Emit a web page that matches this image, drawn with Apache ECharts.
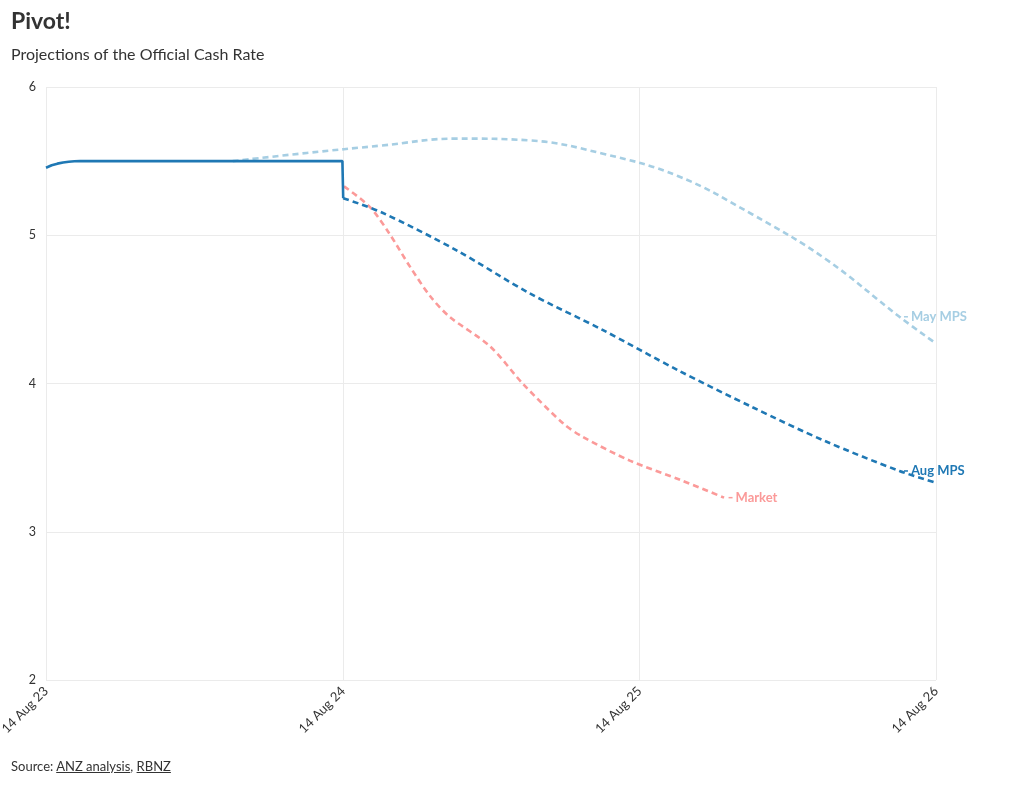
<!DOCTYPE html>
<html><head><meta charset="utf-8">
<script src="https://cdn.jsdelivr.net/npm/echarts@6/dist/echarts.min.js"></script>
<style>
html,body{margin:0;padding:0;background:#fff;}
#chart{width:1020px;height:785px;}
#source{position:absolute;left:11px;top:758px;font-family:Lato,sans-serif;font-size:13px;color:#333;}
#source span{text-decoration:underline;}
</style></head><body>
<div id="chart"></div>
<div id="source">Source: <span>ANZ analysis</span>, <span>RBNZ</span></div>
<script>
// ---- data ----
const tickDates = ['2023-08-14', '2024-08-14', '2025-08-14', '2026-08-14'];
const yTicks = [2, 3, 4, 5, 6];

const ocrDates = ['2023-08-14','2023-08-21','2023-08-28','2023-09-04','2023-09-11','2023-09-18','2023-09-25','2023-10-15','2024-01-15','2024-04-15','2024-07-15','2024-08-13','2024-08-14'];
const ocrValues = [5.455, 5.472, 5.483, 5.491, 5.496, 5.499, 5.5, 5.5, 5.5, 5.5, 5.5, 5.5, 5.25];

const mayDates = ['2024-03-31','2024-06-30','2024-09-30','2024-12-31','2025-03-31','2025-06-30','2025-09-30','2025-12-31','2026-03-31','2026-06-30','2026-08-14'];
const mayValues = [5.50, 5.555, 5.605, 5.652, 5.64, 5.55, 5.40, 5.14, 4.84, 4.45, 4.27];

const augDates = ['2024-08-14','2024-09-30','2024-12-31','2025-03-31','2025-06-30','2025-09-30','2025-12-31','2026-03-31','2026-06-30','2026-08-14'];
const augValues = [5.25, 5.155, 4.90, 4.61, 4.36, 4.09, 3.84, 3.61, 3.41, 3.33];

const mktDates = ['2024-08-15','2024-09-16','2024-10-10','2024-11-04','2024-11-29','2024-12-23','2025-02-11','2025-03-23','2025-05-12','2025-06-05','2025-08-02','2025-10-03','2025-11-26'];
const mktValues = [5.33, 5.19, 5.01, 4.79, 4.59, 4.45, 4.25, 4.00, 3.73, 3.64, 3.48, 3.35, 3.23];

const labelDates = {'May MPS': '2026-06-30', 'Aug MPS': '2026-06-30', 'Market': '2025-11-26'};

// ---- build ----
const FONT = 'Lato, sans-serif';
const colors = {'OCR': '#1f78b4', 'May MPS': '#a6cee3', 'Aug MPS': '#1f78b4', 'Market': '#fb9a99'};

function build(name, dates, values) {
  return dates.map((d, i) => {
    const item = {value: [d, values[i]]};
    if (labelDates[name] === d) {
      item.label = {
        show: true, position: 'right', distance: 4,
        fontFamily: FONT, fontSize: 13, fontWeight: 'bold', color: colors[name],
        formatter: '{d|}{t|' + name + '}',
        rich: {
          d: {width: 4, height: 1.5, backgroundColor: colors[name]},
          t: {color: colors[name], fontFamily: FONT, fontSize: 13, fontWeight: 'bold', padding: [0, 0, 0, 3]}
        }
      };
    }
    return item;
  });
}

function lineSeries(name, dates, values, extra) {
  return Object.assign({
    name: name, type: 'line', data: build(name, dates, values),
    symbol: 'circle', symbolSize: 1, showSymbol: true, showAllSymbol: true,
    itemStyle: {color: 'rgba(0,0,0,0)', borderWidth: 0},
    label: {show: false},
    labelLayout: {hideOverlap: false},
    emphasis: {disabled: true}
  }, extra);
}

const chart = echarts.init(document.getElementById('chart'), null, {renderer: 'canvas'});
chart.setOption({
  animation: false,
  backgroundColor: '#fff',
  textStyle: {fontFamily: FONT},
  title: {
    text: 'Pivot!', subtext: 'Projections of the Official Cash Rate',
    left: 11, top: 10, itemGap: 14, padding: 0,
    textStyle: {fontFamily: FONT, fontSize: 23, fontWeight: 'bold', color: '#333'},
    subtextStyle: {fontFamily: FONT, fontSize: 16, color: '#333'}
  },
  grid: {left: 46, right: 84, top: 87, bottom: 105, containLabel: false, outerBoundsMode: 'none'},
  xAxis: {
    type: 'time',
    min: tickDates[0], max: tickDates[tickDates.length - 1],
    axisLine: {show: false},
    axisTick: {show: false, customValues: tickDates},
    axisLabel: {
      customValues: tickDates, rotate: 45, margin: 9,
      formatter: '{d} {MMM} {yy}', color: '#333', fontSize: 13, fontFamily: FONT
    },
    splitLine: {show: true, lineStyle: {color: '#ebebeb', width: 1}}
  },
  yAxis: {
    type: 'value', min: yTicks[0], max: yTicks[yTicks.length - 1], interval: 1,
    axisLine: {show: false}, axisTick: {show: false},
    axisLabel: {color: '#333', fontSize: 12.5, fontFamily: FONT, margin: 10},
    splitLine: {show: true, lineStyle: {color: '#ebebeb', width: 1}}
  },
  series: [
    lineSeries('OCR', ocrDates, ocrValues, {lineStyle: {color: colors['OCR'], width: 2.6}, z: 5}),
    lineSeries('May MPS', mayDates, mayValues, {smooth: 0.4, lineStyle: {color: colors['May MPS'], width: 2.6, type: [6, 4]}, z: 2}),
    lineSeries('Aug MPS', augDates, augValues, {smooth: 0.3, lineStyle: {color: colors['Aug MPS'], width: 2.6, type: [6, 4]}, z: 4}),
    lineSeries('Market', mktDates, mktValues, {smooth: 0.3, lineStyle: {color: colors['Market'], width: 2.6, type: [6, 4]}, z: 3})
  ]
});
</script>
</body></html>
